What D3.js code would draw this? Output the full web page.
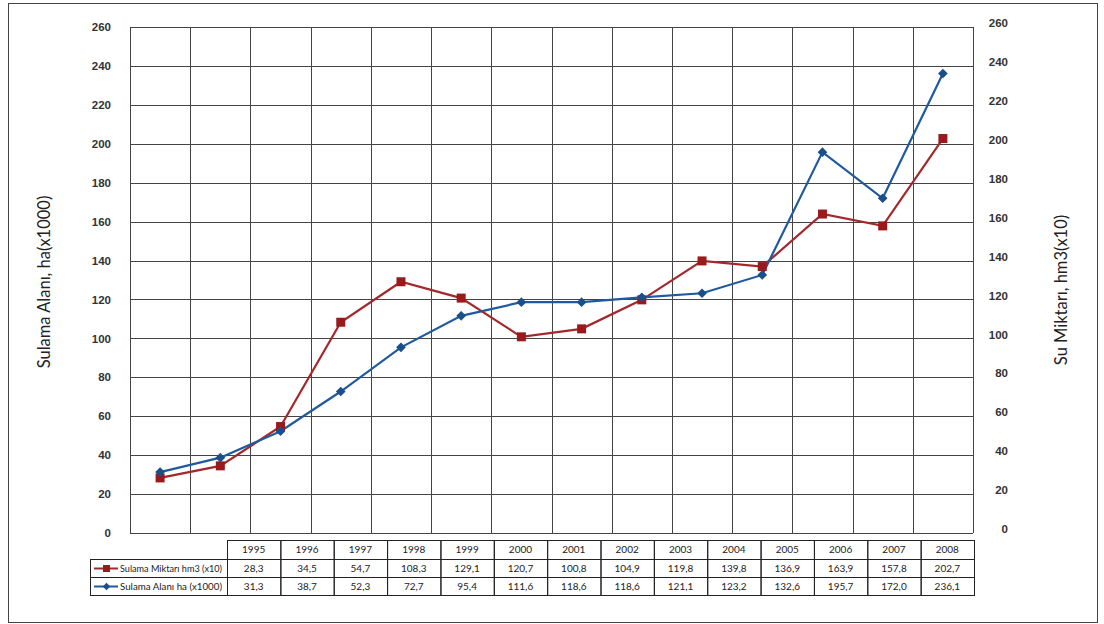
<!DOCTYPE html>
<html>
<head>
<meta charset="utf-8">
<script src="https://cdn.jsdelivr.net/npm/d3@7"></script>
<style>
  html, body { margin: 0; padding: 0; background: #fff; }
  svg { display: block; font-family: Lato, "Open Sans", sans-serif; }
</style>
</head>
<body>
<svg id="chart" width="1104" height="624"></svg>
<script>
// Irrigation water volume and irrigated area by year
const years = ["1995","1996","1997","1998","1999","2000","2001","2002","2003","2004","2005","2006","2007","2008"];
const waterVolume = [28.3, 34.5, 54.7, 108.3, 129.1, 120.7, 100.8, 104.9, 119.8, 139.8, 136.9, 163.9, 157.8, 202.7];
const irrigatedArea = [31.3, 38.7, 52.3, 72.7, 95.4, 111.6, 118.6, 118.6, 121.1, 123.2, 132.6, 195.7, 172.0, 236.1];
const yTicks = [0, 20, 40, 60, 80, 100, 120, 140, 160, 180, 200, 220, 240, 260];
const seriesNames = ["Sulama Miktarı hm3 (x10)", "Sulama Alanı ha (x1000)"];
const leftTitle = "Sulama Alanı, ha(x1000)";
const rightTitle = "Su Miktarı, hm3(x10)";

const fmt = v => v.toFixed(1).replace(".", ",");

const svg = d3.select("#chart");
const plot = { left: 130, right: 973, top: 27, bottom: 533 };

const x = d3.scaleBand().domain(years).range([plot.left, plot.right]);
const y = d3.scaleLinear().domain([0, 260]).range([plot.bottom, plot.top]);
const yRight = d3.scaleLinear().domain([0, 260]).range([529, 23]);

// outer frame
svg.append("rect")
  .attr("x", 8.5).attr("y", 3.5).attr("width", 1089).attr("height", 619)
  .attr("fill", "none").attr("stroke", "#444").attr("stroke-width", 1);

// horizontal grid
svg.append("g").selectAll("line").data(yTicks).join("line")
  .attr("x1", plot.left).attr("x2", plot.right)
  .attr("y1", d => Math.round(y(d)) + 0.5).attr("y2", d => Math.round(y(d)) + 0.5)
  .attr("stroke", "#444").attr("stroke-width", 1);

// vertical grid at category boundaries
const bounds = years.map(d => x(d)).concat([plot.right]);
svg.append("g").selectAll("line").data(bounds).join("line")
  .attr("x1", d => Math.round(d) + 0.5).attr("x2", d => Math.round(d) + 0.5)
  .attr("y1", plot.top).attr("y2", plot.bottom)
  .attr("stroke", "#444").attr("stroke-width", 1);

// left axis labels
const leftAxis = d3.axisLeft(y).tickValues(yTicks).tickSize(0).tickPadding(19);
svg.append("g").attr("transform", `translate(${plot.left},0)`).call(leftAxis)
  .call(g => g.select(".domain").remove())
  .call(g => g.selectAll("text").attr("font-size", 11.5).attr("font-weight", 700).attr("fill", "#333"));

// right axis labels
const rightAxis = d3.axisRight(yRight).tickValues(yTicks).tickSize(0).tickPadding(0);
svg.append("g").attr("transform", `translate(1008,0)`).call(rightAxis)
  .call(g => g.select(".domain").remove())
  .call(g => g.selectAll("text").attr("text-anchor", "end").attr("font-size", 11.5).attr("font-weight", 700).attr("fill", "#333"));

// axis titles
svg.append("text").attr("transform", "translate(50,282) rotate(-90)")
  .attr("text-anchor", "middle").attr("font-size", 16.5).attr("fill", "#222").text(leftTitle);
svg.append("text").attr("transform", "translate(1067,290) rotate(-90)")
  .attr("text-anchor", "middle").attr("font-size", 16.5).attr("fill", "#222").text(rightTitle);

// series
const cx = d => x(d) + x.bandwidth() / 2;
const redLine = "#a3282b", redFill = "#9a1a1c";
const blueLine = "#1f5a9e", blueFill = "#1b4f8c";

const line = d3.line().x((d, i) => cx(years[i])).y(d => y(d));

svg.append("path").datum(waterVolume).attr("d", line)
  .attr("fill", "none").attr("stroke", redLine).attr("stroke-width", 2.2);
svg.append("path").datum(irrigatedArea).attr("d", line)
  .attr("fill", "none").attr("stroke", blueLine).attr("stroke-width", 2.2);

svg.append("g").selectAll("rect").data(waterVolume).join("rect")
  .attr("x", (d, i) => cx(years[i]) - 4.5).attr("y", d => y(d) - 4.5)
  .attr("width", 9).attr("height", 9).attr("fill", redFill);

const diamond = d3.symbol().type(d3.symbolDiamond2).size(60);
svg.append("g").selectAll("path").data(irrigatedArea).join("path")
  .attr("transform", (d, i) => `translate(${cx(years[i])},${y(d)})`)
  .attr("d", diamond).attr("fill", blueFill);

// data table
const tx = d3.scaleBand().domain(years).range([227, 974]);
const rows = { head: 540, r1: 559, r2: 577, end: 595 };
const legendLeft = 90;
const table = svg.append("g").attr("font-size", 10).attr("fill", "#222");

const stroke = sel => sel.attr("stroke", "#222").attr("stroke-width", 1).attr("fill", "none");

// header cells
table.selectAll("rect.head").data(years).join("rect").attr("class", "head")
  .attr("x", d => tx(d) + 0.5).attr("y", rows.head + 0.5)
  .attr("width", tx.bandwidth()).attr("height", rows.r1 - rows.head).call(stroke);
// value cells
[[waterVolume, rows.r1], [irrigatedArea, rows.r2]].forEach(([vals, top]) => {
  table.append("g").selectAll("rect").data(years).join("rect")
    .attr("x", d => tx(d) + 0.5).attr("y", top + 0.5)
    .attr("width", tx.bandwidth()).attr("height", 18).call(stroke);
  table.append("g").selectAll("text").data(vals).join("text")
    .attr("x", (d, i) => tx(years[i]) + tx.bandwidth() / 2).attr("y", top + 13)
    .attr("text-anchor", "middle").text(d => fmt(d));
});
table.append("g").selectAll("text").data(years).join("text")
  .attr("x", d => tx(d) + tx.bandwidth() / 2).attr("y", rows.head + 13)
  .attr("text-anchor", "middle").text(d => d);

// legend cells
[rows.r1, rows.r2].forEach(top => {
  table.append("rect").attr("x", legendLeft + 0.5).attr("y", top + 0.5)
    .attr("width", 227 - legendLeft).attr("height", 18).call(stroke);
});
const legendItems = [
  { name: seriesNames[0], top: rows.r1, color: redLine, fill: redFill, shape: "square" },
  { name: seriesNames[1], top: rows.r2, color: blueLine, fill: blueFill, shape: "diamond" }
];
legendItems.forEach(it => {
  const cy = it.top + 9.5;
  table.append("line").attr("x1", 94).attr("x2", 118).attr("y1", cy).attr("y2", cy)
    .attr("stroke", it.color).attr("stroke-width", 2);
  if (it.shape === "square") {
    table.append("rect").attr("x", 103).attr("y", cy - 3.5).attr("width", 7).attr("height", 7).attr("fill", it.fill);
  } else {
    table.append("path").attr("transform", `translate(106.5,${cy})`)
      .attr("d", d3.symbol().type(d3.symbolDiamond2).size(36)).attr("fill", it.fill);
  }
  table.append("text").attr("x", 120).attr("y", it.top + 13)
    .attr("font-size", 9.5).attr("textLength", 102).attr("lengthAdjust", "spacingAndGlyphs")
    .text(it.name);
});
</script>
</body>
</html>
